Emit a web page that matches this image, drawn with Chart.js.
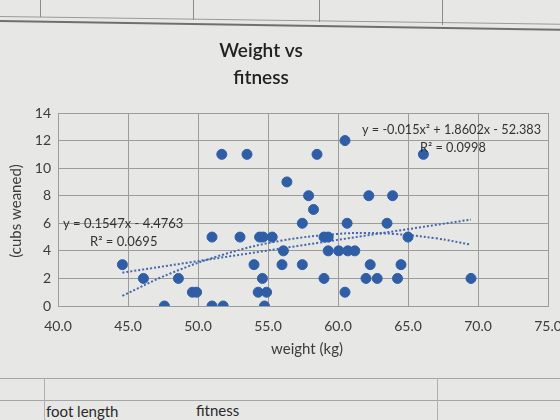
<!DOCTYPE html>
<html>
<head>
<meta charset="utf-8">
<script src="https://cdn.jsdelivr.net/npm/chart.js@4.4.1/dist/chart.umd.min.js"></script>
<style>
  html, body { margin:0; padding:0; }
  body { width:560px; height:420px; overflow:hidden; background:#e7e7e5; position:relative; font-family: Lato, "Open Sans", sans-serif; }
  #wrap { position:absolute; left:0; top:0; width:560px; height:420px; }
  .hl { position:absolute; height:2px; background:#6f6f6f; transform-origin:0 0; }
  .vl { position:absolute; width:1px; background:#8a8a8a; }
  .cell { position:absolute; font-size:15px; color:#2a2a2a; }
</style>
</head>
<body>
<div class="hl" style="left:0;top:16px;width:570px;transform:rotate(0.8deg);height:1px;background:#9a9a9a"></div>
<div class="hl" style="left:0;top:20px;width:570px;transform:rotate(0.9deg);"></div>
<div class="vl" style="left:40px;top:0;height:17px"></div>
<div class="vl" style="left:193px;top:0;height:20px"></div>
<div class="vl" style="left:319px;top:0;height:22px"></div>
<div class="vl" style="left:442px;top:0;height:25px"></div>
<div class="hl" style="left:0;top:378px;width:560px;height:1px;background:#a5a5a5"></div>
<div class="hl" style="left:0;top:400px;width:560px;height:1px;background:#a5a5a5"></div>
<div class="vl" style="left:44px;top:378px;height:42px;background:#b0b0b0"></div>
<div class="vl" style="left:437px;top:378px;height:42px;background:#b0b0b0"></div>
<div class="cell" style="left:46px;top:402px">foot length</div>
<div class="cell" style="left:196px;top:401px">fitness</div>
<div id="wrap"><canvas id="c" width="560" height="420"></canvas></div>
<script>
// ---- data ----
const weights = [44.6, 46.1, 47.6, 48.6, 49.6, 49.9, 51.0, 51.0, 51.8, 51.7,
                 53.5, 53.0, 54.4, 54.65, 55.3, 54.0, 54.6, 54.3, 54.9, 54.75,
                 58.5, 60.5, 56.35, 57.9, 58.25, 57.45, 60.65, 59.0, 59.3, 56.1,
                 59.3, 60.05, 60.7, 61.2, 56.0, 57.45, 59.0, 60.5, 66.1, 62.2,
                 63.9, 63.5, 65.0, 62.3, 64.5, 62.0, 62.8, 64.25, 69.5];
const cubs    = [3, 2, 0, 2, 1, 1, 5, 0, 0, 11,
                 11, 5, 5, 5, 5, 3, 2, 1, 1, 0,
                 11, 12, 9, 8, 7, 6, 6, 5, 5, 4,
                 4, 4, 4, 4, 3, 3, 2, 1, 11, 8,
                 8, 6, 5, 3, 3, 2, 2, 2, 2];
const linTrendX  = [44.6, 69.5];
const linTrendY  = [2.42, 6.27];
const polyTrendX = [44.6, 48, 52, 56, 60, 62, 64, 67, 69.5];
const polyTrendY = [0.74, 2.35, 3.79, 4.75, 5.23, 5.29, 5.23, 4.91, 4.45];
const xTicks = [40, 45, 50, 55, 60, 65, 70, 75];
const yTicks = [0, 2, 4, 6, 8, 10, 12, 14];
const titleLines = ['Weight vs', 'fitness'];
const xTitle = 'weight (kg)';
const yTitle = '(cubs weaned)';
const linLabel = ['y = 0.1547x - 4.4763', 'R² = 0.0695'];
const polyLabel = ['y = -0.015x² + 1.8602x - 52.383', 'R² = 0.0998'];

const blue = '#2f5ea6';
const lineBlue = '#4468ab';
const textCol = '#3c3c3c';
const font = 'Lato, "Open Sans", sans-serif';

const toXY = (xs, ys) => xs.map((x, i) => ({x: x, y: ys[i]}));

const textPlugin = {
  id: 'texts',
  afterDraw(chart) {
    const ctx = chart.ctx;
    ctx.save();
    ctx.fillStyle = '#222222';
    ctx.textAlign = 'center';
    ctx.textBaseline = 'middle';
    ctx.font = '600 19px ' + font;
    ctx.fillText(titleLines[0], 261, 51);
    ctx.fillText(titleLines[1], 261, 78);
    ctx.fillStyle = textCol;
    ctx.font = '15px ' + font;
    ctx.fillText(xTitle, 307, 349);
    ctx.save();
    ctx.translate(16, 211);
    ctx.rotate(-Math.PI / 2);
    ctx.fillText(yTitle, 0, 0);
    ctx.restore();
    ctx.fillStyle = '#333333';
    ctx.font = '13px ' + font;
    ctx.textAlign = 'left';
    ctx.fillText(linLabel[0], 63, 224);
    ctx.fillText(linLabel[1], 90, 242);
    ctx.font = '12.7px ' + font;
    ctx.fillText(polyLabel[0], 362, 130);
    ctx.fillText(polyLabel[1], 420, 148);
    ctx.restore();
  }
};

new Chart(document.getElementById('c'), {
  type: 'scatter',
  data: {
    datasets: [
      { label: 'data', data: toXY(weights, cubs), backgroundColor: blue, borderColor: blue,
        pointRadius: 5, pointHoverRadius: 5, order: 1 },
      { label: 'linear', type: 'line', data: toXY(linTrendX, linTrendY), borderColor: lineBlue,
        borderWidth: 2, borderDash: [2, 2], pointRadius: 0, fill: false, order: 2 },
      { label: 'poly', type: 'line', data: toXY(polyTrendX, polyTrendY), borderColor: lineBlue,
        borderWidth: 2, borderDash: [2, 2], pointRadius: 0, fill: false, tension: 0.4, order: 2 }
    ]
  },
  options: {
    responsive: false,
    animation: false,
    layout: { padding: { top: 113, right: 12, left: 0, bottom: 0 } },
    plugins: { legend: { display: false }, title: { display: false }, tooltip: { enabled: false } },
    scales: {
      x: {
        type: 'linear', min: 40, max: 75,
        afterBuildTicks: s => { s.ticks = xTicks.map(v => ({value: v})); },
        afterFit: s => { s.height = 114; s.paddingRight = 0; s.paddingLeft = 0; },
        grid: { color: '#9c9c9c', drawTicks: false, lineWidth: 1 },
        border: { color: '#9c9c9c' },
        ticks: { padding: 12, color: textCol, font: { size: 14, family: font }, callback: v => Number(v).toFixed(1) }
      },
      y: {
        type: 'linear', min: 0, max: 14,
        afterBuildTicks: s => { s.ticks = yTicks.map(v => ({value: v})); },
        afterFit: s => { s.width = 58; s.paddingTop = 0; s.paddingBottom = 0; },
        grid: { color: '#9c9c9c', drawTicks: false, lineWidth: 1 },
        border: { color: '#9c9c9c' },
        ticks: { padding: 7, color: textCol, font: { size: 14, family: font } }
      }
    }
  },
  plugins: [textPlugin]
});
</script>
</body>
</html>
